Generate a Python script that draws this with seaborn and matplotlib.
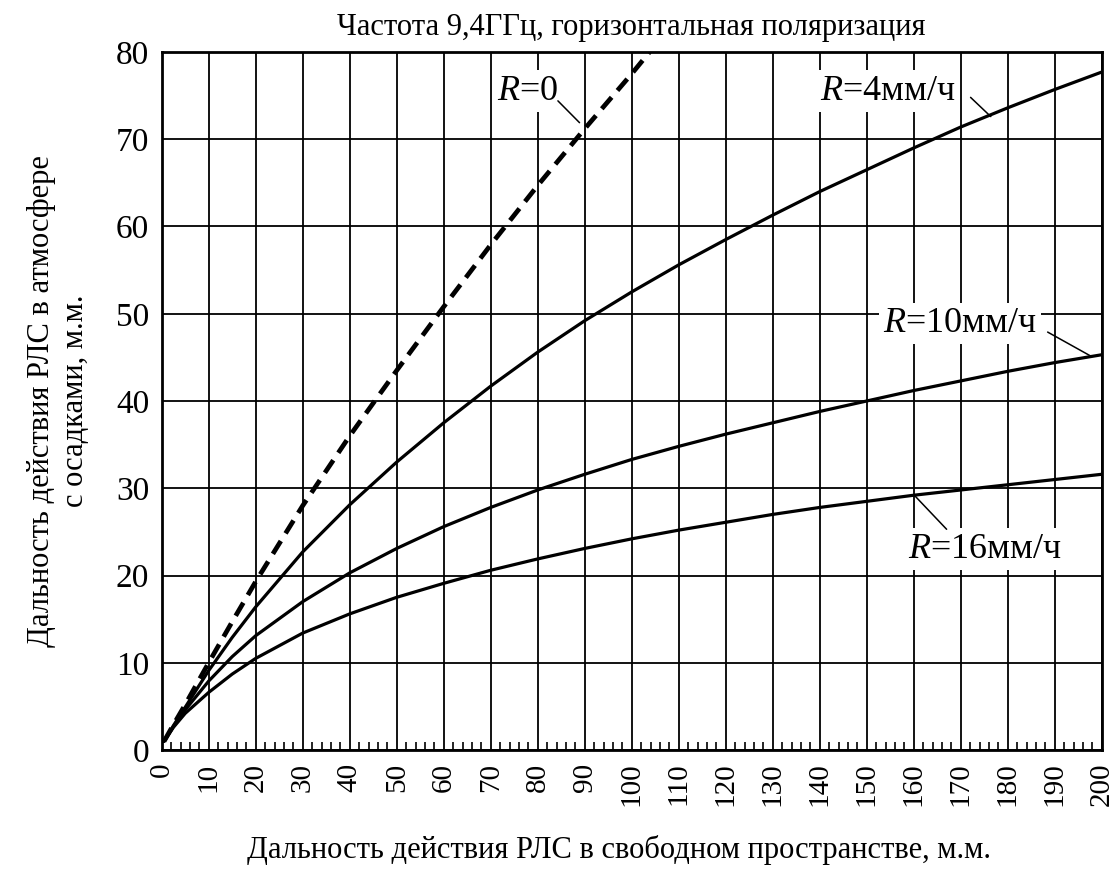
import numpy as np
import pandas as pd
import matplotlib
matplotlib.use("Agg")
import matplotlib.pyplot as plt
import seaborn as sns

# ---- data ----
x_r0 = [0.5, 2.5, 5, 10, 15, 20, 30, 40, 50, 60, 70, 80, 90, 100, 103.8]
y_r0 = [1.0, 2.9, 5.2, 10.0, 14.7, 19.3, 28.0, 36.0, 43.5, 50.8, 57.9, 64.7,
        71.2, 77.5, 80.0]

x_rain = [0.5, 2.5, 5, 10, 15, 20, 30, 40, 50, 60, 70, 80, 90, 100, 110, 120,
          130, 140, 150, 160, 170, 180, 190, 200]
y_r4 = [1.0, 2.8, 4.9, 9.1, 12.9, 16.4, 22.7, 28.1, 33.0, 37.5, 41.7, 45.6,
        49.2, 52.5, 55.6, 58.5, 61.3, 64.0, 66.5, 69.0, 71.4, 73.6, 75.7, 77.7]
y_r10 = [1.0, 2.7, 4.6, 7.9, 10.7, 13.1, 17.0, 20.3, 23.1, 25.6, 27.8, 29.8,
         31.6, 33.3, 34.8, 36.2, 37.5, 38.8, 40.0, 41.2, 42.3, 43.4, 44.4, 45.3]
y_r16 = [1.0, 2.6, 4.2, 6.6, 8.7, 10.5, 13.4, 15.6, 17.5, 19.1, 20.6, 21.9,
         23.1, 24.2, 25.2, 26.1, 27.0, 27.8, 28.5, 29.2, 29.8, 30.4, 31.0, 31.6]

x_ticks = list(range(0, 201, 10))
y_ticks = list(range(0, 81, 10))

title = "Частота 9,4ГГц, горизонтальная поляризация"
xlabel = "Дальность действия РЛС в свободном пространстве, м.м."
ylabel = "Дальность действия РЛС в атмосфере\nс осадками, м.м."
labels = ["$R$=0", "$R$=4мм/ч", "$R$=10мм/ч", "$R$=16мм/ч"]

sns.set_theme(style="white")
plt.rcParams["font.family"] = ["Liberation Serif", "DejaVu Serif"]
plt.rcParams["mathtext.fontset"] = "custom"
plt.rcParams["mathtext.it"] = "Liberation Serif:italic"
plt.rcParams["mathtext.rm"] = "Liberation Serif"
for k in ("text.color", "axes.labelcolor", "xtick.color", "ytick.color"):
    plt.rcParams[k] = "black"

fig = plt.figure(figsize=(11.19, 8.72), dpi=100)
ax = fig.add_axes([161.7 / 1119, 1 - 750 / 872, 940 / 1119, 698 / 872])

df0 = pd.DataFrame({"x": x_r0, "y": y_r0})
sns.lineplot(data=df0, x="x", y="y", ax=ax, color="black", lw=3.4,
             estimator=None, sort=False)
ax.lines[-1].set_dashes([3.2, 1.9])
ax.lines[-1].set_dash_capstyle("butt")

for ys in (y_r4, y_r10, y_r16):
    d = pd.DataFrame({"x": x_rain, "y": ys})
    sns.lineplot(data=d, x="x", y="y", ax=ax, color="black", lw=2.3,
                 estimator=None, sort=False)
for ln in ax.lines:
    ln.set_solid_joinstyle("round")

ax.set_xlim(0, 200)
ax.set_ylim(0, 80)
ax.set_xticks(x_ticks)
ax.set_yticks(y_ticks)
ax.set_xticklabels([str(t) for t in x_ticks], rotation=90, fontsize=21)
ax.set_yticklabels([str(t) for t in y_ticks], fontsize=24)
ax.set_xticks(np.arange(0, 201, 2), minor=True)
ax.tick_params(axis="x", which="minor", direction="in", length=6, width=1.2,
               color="black", bottom=True)
ax.tick_params(axis="both", which="major", length=0, pad=9, colors="black")
ax.grid(True, which="major", color="black", lw=1.3)
for s in ax.spines.values():
    s.set_color("black")
    s.set_linewidth(2.0)

ax.set_title(title, fontsize=22, pad=12)
ax.set_xlabel(xlabel, fontsize=22)
ax.xaxis.set_label_coords(0.486, -0.122)
ax.set_ylabel(ylabel, fontsize=22, linespacing=1.25)
ax.yaxis.set_label_coords(-0.076, 0.5)

bb = dict(facecolor="white", edgecolor="none", pad=3)
ann = [
    (labels[0], (77.9, 75.5), (84.3, 74.4), (88.9, 71.9)),
    (labels[1], (154.5, 75.5), (172.1, 74.8), (176.4, 72.6)),
    (labels[2], (169.9, 48.9), (188.5, 47.9), (197.5, 45.2)),
    (labels[3], (175.2, 23.0), (167.0, 25.3), (160.3, 29.1)),
]
for txt, pos, p1, p2 in ann:
    ax.text(pos[0], pos[1], txt, fontsize=26, ha="center", va="center",
            bbox=bb, zorder=5)
    ax.plot([p1[0], p2[0]], [p1[1], p2[1]], color="black", lw=1.1, zorder=6)

fig.savefig("out.png", dpi=100, facecolor="white")
